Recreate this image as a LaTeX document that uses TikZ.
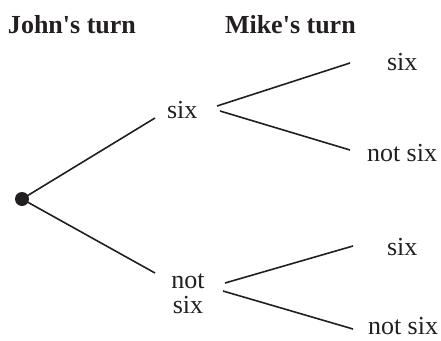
\documentclass[tikz,border=0pt]{standalone}
\usepackage{fontspec}
\setmainfont{Liberation Serif}
\newfontfamily\tnr{Liberation Serif}
\definecolor{ink}{RGB}{35,31,32}
\begin{document}
\begin{tikzpicture}[x=1pt,y=-1pt,
  lbl/.style={inner sep=0pt,outer sep=0pt,text=ink,font=\tnr\fontsize{26}{25}\selectfont},
  ttl/.style={lbl,font=\tnr\fontsize{26}{25}\selectfont\bfseries},
  branch/.style={draw=ink,line width=1.6pt}]
\useasboundingbox (0,0) rectangle (441,340);
\node[ttl,anchor=base west] (john) at (8,33) {John\char"0027 s turn};
\node[ttl,anchor=base west] (mike) at (225,33) {Mike\char"0027 s turn};
\node[circle,fill=ink,inner sep=0pt,minimum size=14pt] (root) at (22,199) {};
\node[lbl,anchor=base west] (s1) at (167,118) {six};
\node[lbl,anchor=base,align=center] (n1) at (188,313) {not\\six};
\node[lbl,anchor=base west] (s1s) at (387,70) {six};
\node[lbl,anchor=base west] (s1n) at (367,161) {not six};
\node[lbl,anchor=base west] (n1s) at (387,255) {six};
\node[lbl,anchor=base west] (n1n) at (368,334) {not six};
\coordinate (s1a) at (155,118);
\coordinate (n1a) at (155,273);
\coordinate (s1b) at (217,106);
\coordinate (s1c) at (220,111);
\coordinate (s1sa) at (350,63);
\coordinate (s1na) at (350,150);
\coordinate (n1b) at (225,283);
\coordinate (n1c) at (223,291);
\coordinate (n1sa) at (353,246);
\coordinate (n1na) at (353,329);
\draw[branch] (root.center) -- (s1a);
\draw[branch] (root.center) -- (n1a);
\draw[branch] (s1b) -- (s1sa);
\draw[branch] (s1c) -- (s1na);
\draw[branch] (n1b) -- (n1sa);
\draw[branch] (n1c) -- (n1na);
\end{tikzpicture}
\end{document}
